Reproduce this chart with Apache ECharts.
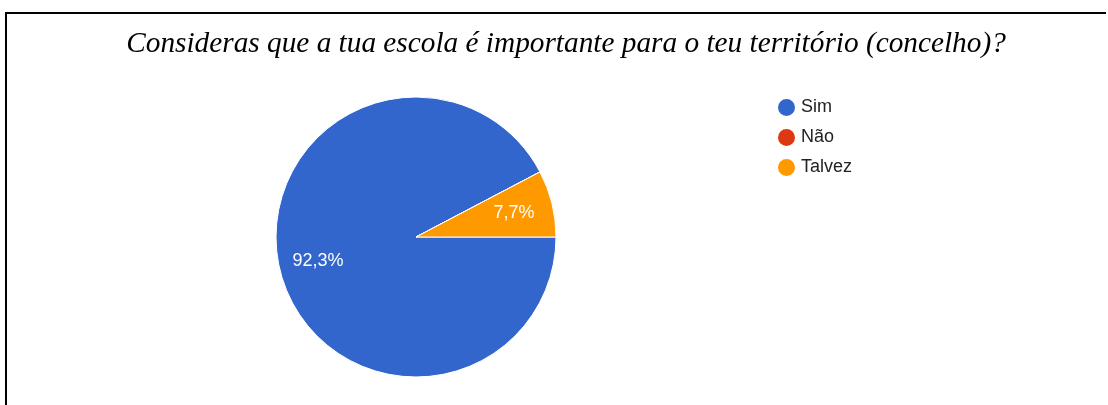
<!DOCTYPE html>
<html>
<head>
<meta charset="utf-8">
<script src="https://cdn.jsdelivr.net/npm/echarts@6/dist/echarts.min.js"></script>
<style>
html,body{margin:0;padding:0;background:#fff;}
#chart{width:1108px;height:405px;}
</style>
</head>
<body>
<div id="chart"></div>
<script>
const titleText = 'Consideras que a tua escola é importante para o teu território (concelho)?';
const categories = ['Sim', 'Não', 'Talvez'];
const counts = [12, 0, 1];
const colors = ['#3366cc', '#dc3912', '#ff9900'];

const data = categories.map((c, i) => ({ name: c, value: counts[i] }));
const chart = echarts.init(document.getElementById('chart'), null, { renderer: 'canvas' });

const pct = p => p.value > 0 ? p.percent.toFixed(1).replace('.', ',') + '%' : '';

chart.setOption({
  animation: false,
  backgroundColor: '#ffffff',
  color: colors,
  title: {
    text: titleText,
    left: 561,
    textAlign: 'center',
    top: 25,
    textStyle: {
      fontFamily: '"Liberation Serif", "Times New Roman", serif',
      fontStyle: 'italic',
      fontWeight: 'normal',
      fontSize: 29.3,
      color: '#000'
    }
  },
  legend: {
    orient: 'vertical',
    left: 771,
    top: 92,
    icon: 'circle',
    itemWidth: 19,
    itemHeight: 19,
    itemGap: 9,
    data: categories,
    selectedMode: false,
    textStyle: {
      fontFamily: '"Liberation Sans", Arial, sans-serif',
      fontSize: 18,
      color: '#222'
    }
  },
  graphic: [{
    type: 'polyline',
    shape: { points: [[6, 405], [6, 13], [1106, 13]] },
    style: { stroke: '#000', lineWidth: 2, fill: null }
  }],
  series: [
    {
      type: 'pie',
      center: [416, 237],
      radius: 140,
      startAngle: 0,
      clockwise: true,
      data: data,
      label: { show: false },
      labelLine: { show: false },
      itemStyle: { borderColor: '#fff', borderWidth: 1 },
      emphasis: { disabled: true },
      silent: true
    },
    {
      type: 'pie',
      center: [416, 237],
      radius: [56, 140],
      startAngle: 0,
      clockwise: true,
      data: data,
      itemStyle: { color: 'transparent' },
      label: {
        show: true,
        position: 'inside',
        formatter: pct,
        color: '#fff',
        fontFamily: '"Liberation Sans", Arial, sans-serif',
        fontSize: 18
      },
      labelLine: { show: false },
      emphasis: { disabled: true },
      silent: true
    }
  ]
});
</script>
</body>
</html>
